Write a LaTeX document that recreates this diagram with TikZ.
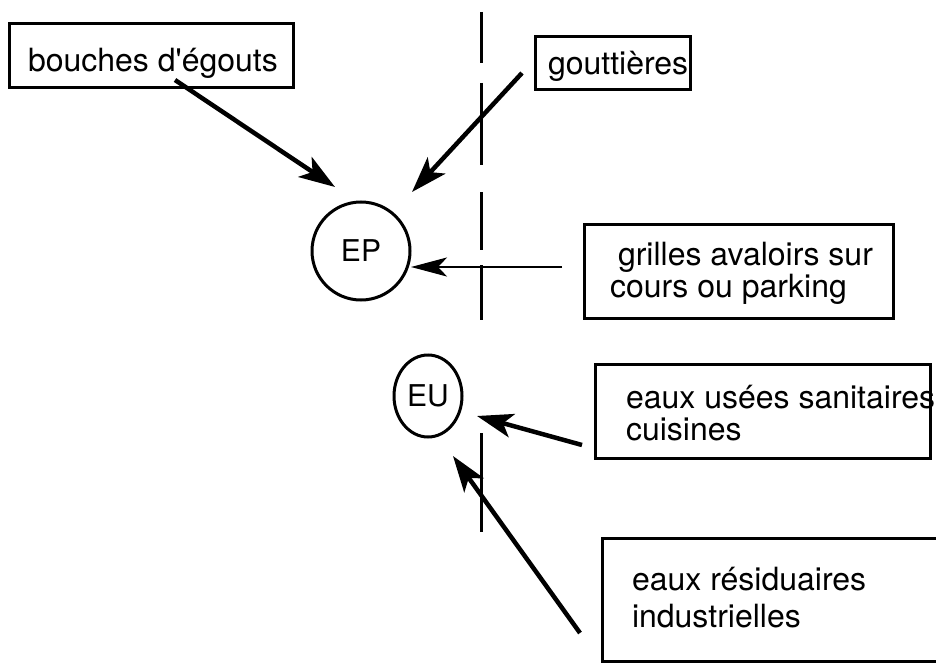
\documentclass[tikz,border=0pt]{standalone}
\usepackage{fontspec}
\setmainfont{TeX Gyre Heros}
\usetikzlibrary{arrows.meta,shapes.geometric}

\tikzset{
  box/.style={draw, line width=3pt, inner sep=0pt, outer sep=0pt, rectangle},
  ring/.style={draw, line width=3pt, inner sep=0pt, outer sep=0pt, font=\fontsize{30}{30}\selectfont},
  lbl/.style={inner sep=0pt, outer sep=0pt, align=left, anchor=base west, font=\fontsize{32}{32}\selectfont},
  flow/.style={line width=4.5pt, -{Stealth[length=36pt, width=24pt, inset=9pt]}},
  thinflow/.style={line width=2.8pt, -{Stealth[length=36pt, width=19pt, inset=9pt]}}
}

\begin{document}
\begin{tikzpicture}[x=1pt,y=-1pt]
  \useasboundingbox (0,0) rectangle (936,663);

  % limite de propriete
  \draw[line width=3pt, dash pattern=on 51pt off 20pt on 82pt off 27pt on 58pt off 15pt on 55pt off 113pt on 99pt]
    (481,12) -- (481,532);

  % collecteurs
  \node[ring, circle, minimum size=98pt] (EP) at (361,251) {EP};
  \node[ring, ellipse, minimum width=68pt, minimum height=82pt] (EU) at (428,396) {EU};

  % sources (texte place sur la derniere ligne de base)
  \node[box, minimum width=284pt, minimum height=64pt] (bouches) at (151,56) {};
  \node[lbl] (bouchest) at (28,72) {bouches d\textquotesingle égouts};

  \node[box, minimum width=155pt, minimum height=53pt] (gouttieres) at (612.5,63.5) {};
  \node[lbl] (gouttierest) at (548,75) {gouttières};

  \node[box, minimum width=309pt, minimum height=94pt] (grilles) at (738.5,271) {};
  \node[lbl] (grillest) at (610,297) {\hspace*{8pt}grilles avaloirs sur\\cours ou parking};

  \node[box, minimum width=335pt, minimum height=94pt] (usees) at (762.5,411) {};
  \node[lbl] (useest) at (626,440) {eaux usées sanitaires\\cuisines};

  \node[box, minimum width=338pt, minimum height=123pt] (indus) at (771,599.5) {};
  \node[lbl, font=\fontsize{32}{37}\selectfont] (indust) at (632,627) {eaux résiduaires\\industrielles};

  % branchements
  \draw[flow] ([shift={(24,-8)}]bouches.south) -- ([shift={(-26,-64)}]EP.center);
  \draw[flow] ([shift={(-13,9.5)}]gouttieres.west) -- ([shift={(51,-59)}]EP.center);
  \draw[thinflow] ([shift={(-22,-4)}]grilles.west) -- ([shift={(50,16)}]EP.center);
  \draw[flow] ([shift={(-13,34)}]usees.west) -- ([shift={(49,20)}]EU.center);
  \draw[flow] ([shift={(-22,33.5)}]indus.west) -- ([shift={(25,60)}]EU.center);
\end{tikzpicture}
\end{document}
